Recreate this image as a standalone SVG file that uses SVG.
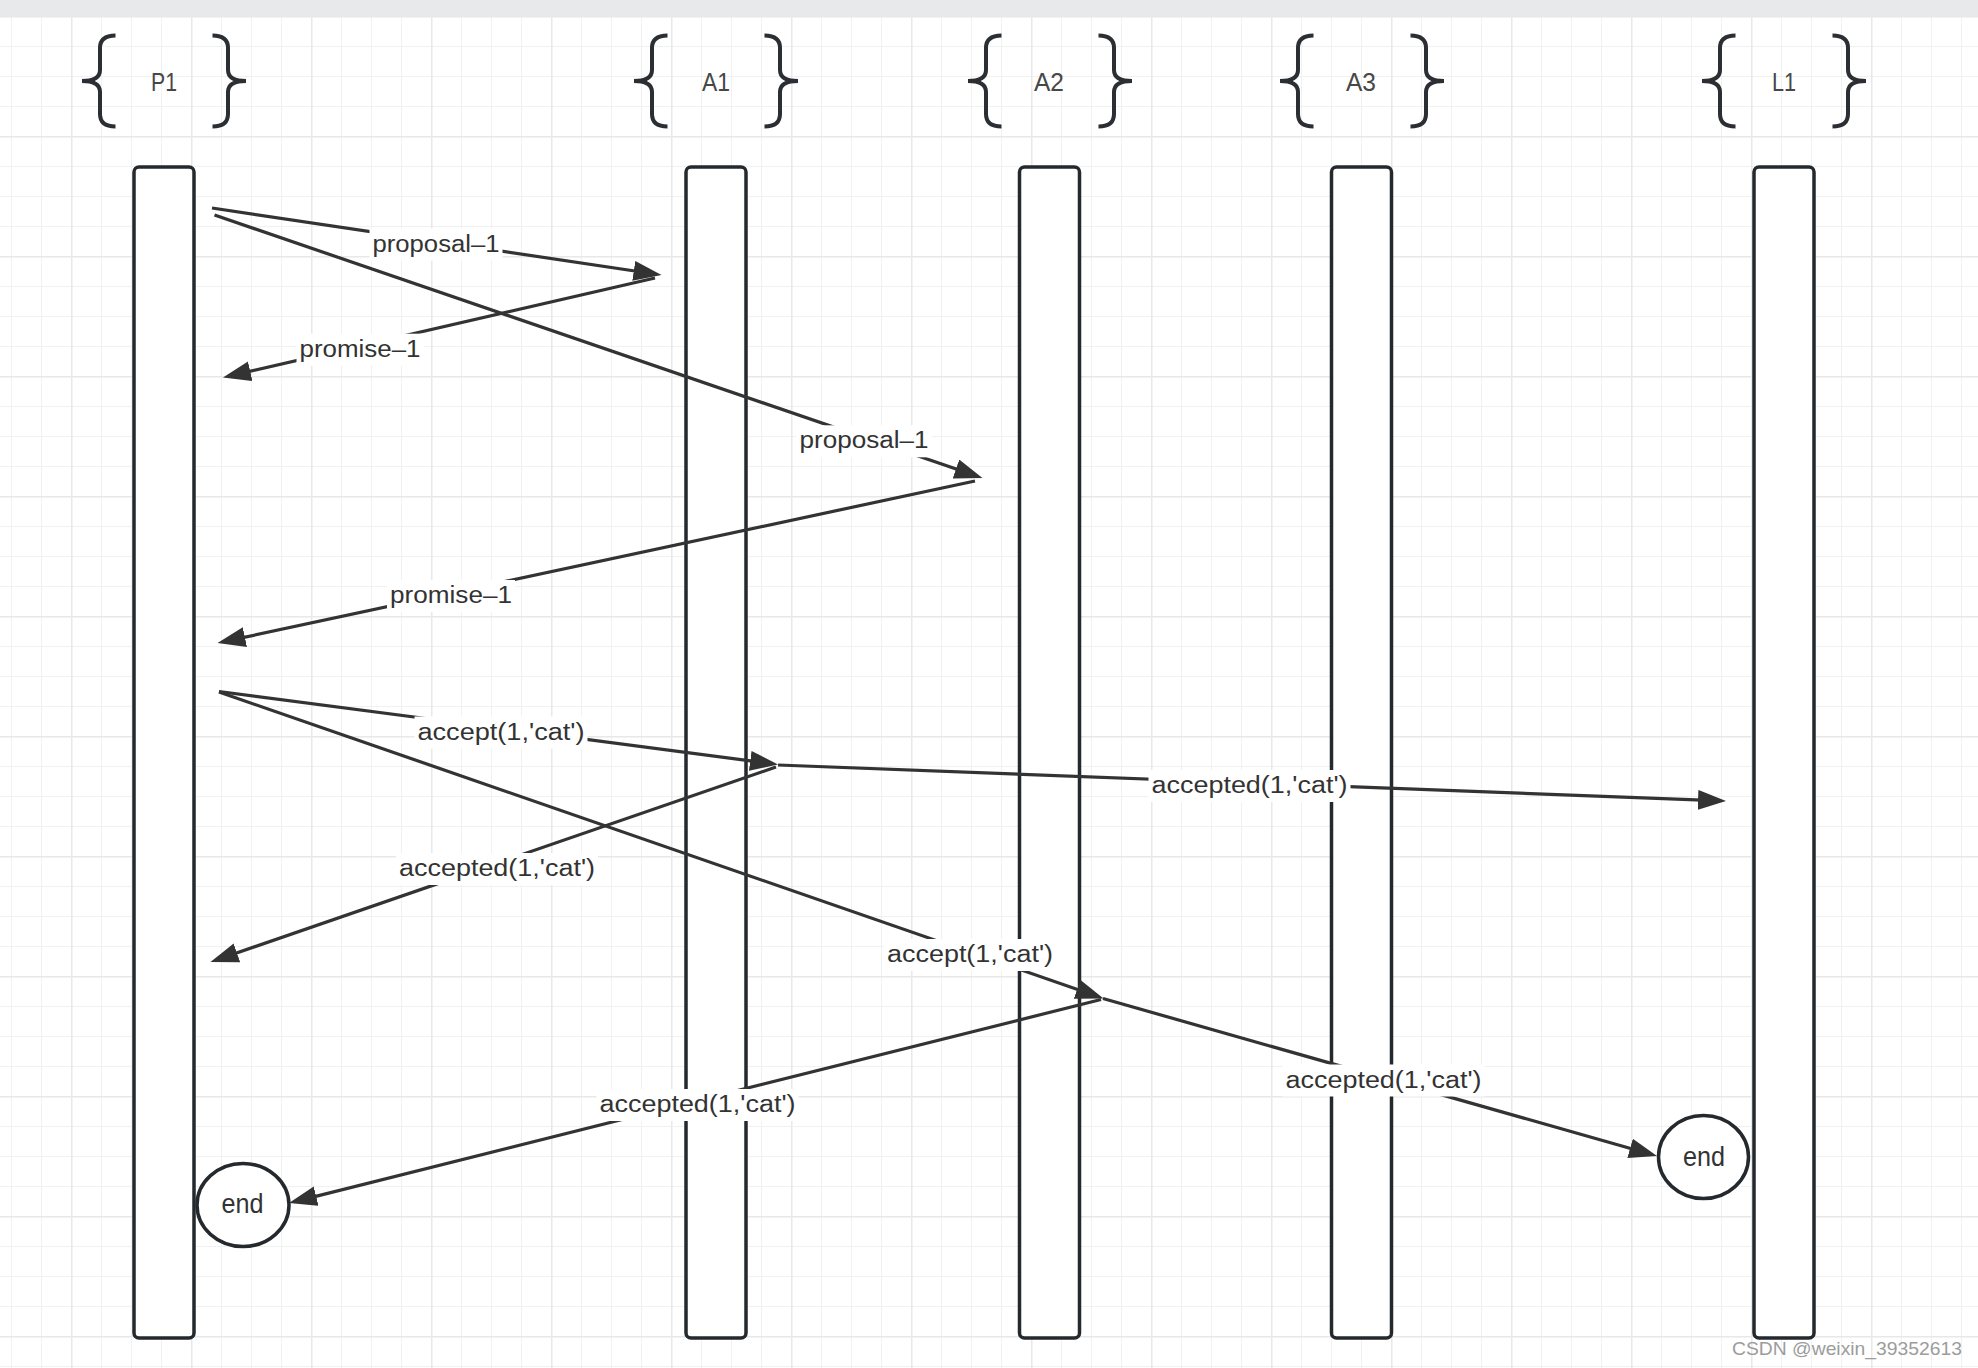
<svg xmlns="http://www.w3.org/2000/svg" xmlns:xlink="http://www.w3.org/1999/xlink" width="1978" height="1368" viewBox="0 0 1978 1368">
<style>
.lane{fill:#fff;stroke:#24292e;stroke-width:3.5}
.brace{fill:none;stroke:#2b2f33;stroke-width:4;stroke-linecap:butt}
.hdr{font-family:"Liberation Sans",Arial,sans-serif;font-size:25px;fill:#474747;text-anchor:middle}
.conn{fill:none;stroke:#333;stroke-width:3.2}
.lblbg{fill:#fff}
.lbl{font-family:"Liberation Sans",Arial,sans-serif;font-size:23px;fill:#333;text-anchor:middle}
.endc{fill:#fff;stroke:#24292e;stroke-width:3.5}
.endt{font-family:"Liberation Sans",Arial,sans-serif;font-size:28px;fill:#333;text-anchor:middle}
.wm{font-family:"Liberation Sans",Arial,sans-serif;font-size:19px;fill:#9c9c9c}
</style>
<defs>
<pattern id="gridMinor" patternUnits="userSpaceOnUse" x="11" y="16" width="30" height="30">
<path d="M0,0.5H30M0.5,0V30" fill="none" stroke="#f1f1f1" stroke-width="1"/>
</pattern>
<pattern id="gridMajor" patternUnits="userSpaceOnUse" x="71" y="16" width="120" height="120">
<path d="M0,0.75H120M0.75,0V120" fill="none" stroke="#e8e8e8" stroke-width="1.5"/>
</pattern>
<marker id="arr" markerUnits="userSpaceOnUse" markerWidth="30" markerHeight="22" refX="18" refY="10" orient="auto">
<path d="M0,0L28,10L0,20z" fill="#333"/>
</marker>
<g id="braces">
<path class="brace" d="M115.5,35.5Q100,35.5 100,48L100,70Q100,81 82,81Q100,81 100,92L100,114Q100,126.5 115.5,126.5"/>
<path class="brace" d="M212.5,35.5Q228,35.5 228,48L228,70Q228,81 246,81Q228,81 228,92L228,114Q228,126.5 212.5,126.5"/>
</g>
</defs>

<g id="background">
<rect x="0" y="0" width="1978" height="1368" fill="#fff"/>
<rect x="0" y="16" width="1978" height="1352" fill="url(#gridMinor)"/>
<rect x="0" y="16" width="1978" height="1352" fill="url(#gridMajor)"/>
<rect x="0" y="0" width="1978" height="16" fill="#e8e9eb"/>
</g>

<g id="node-P1">
<use xlink:href="#braces"/>
<text class="hdr" x="164" y="90.5" textLength="26" lengthAdjust="spacingAndGlyphs">P1</text>
<rect class="lane" x="134" y="167" width="60" height="1171" rx="5"/>
</g>
<g id="node-A1">
<use xlink:href="#braces" transform="translate(552,0)"/>
<text class="hdr" x="716" y="90.5" textLength="28" lengthAdjust="spacingAndGlyphs">A1</text>
<rect class="lane" x="686" y="167" width="60" height="1171" rx="5"/>
</g>
<g id="node-A2">
<use xlink:href="#braces" transform="translate(886,0)"/>
<text class="hdr" x="1049" y="90.5" textLength="30" lengthAdjust="spacingAndGlyphs">A2</text>
<rect class="lane" x="1019.5" y="167" width="60" height="1171" rx="5"/>
</g>
<g id="node-A3">
<use xlink:href="#braces" transform="translate(1198,0)"/>
<text class="hdr" x="1361" y="90.5" textLength="30" lengthAdjust="spacingAndGlyphs">A3</text>
<rect class="lane" x="1331.5" y="167" width="60" height="1171" rx="5"/>
</g>
<g id="node-L1">
<use xlink:href="#braces" transform="translate(1620,0)"/>
<text class="hdr" x="1784" y="90.5" textLength="24" lengthAdjust="spacingAndGlyphs">L1</text>
<rect class="lane" x="1754" y="167" width="60" height="1171" rx="5"/>
</g>

<g id="connectors">
<line class="conn" x1="212" y1="208" x2="651.6" y2="273.5" marker-end="url(#arr)"/>
<line class="conn" x1="655" y1="278" x2="232.7" y2="375.3" marker-end="url(#arr)"/>
<line class="conn" x1="214.5" y1="215" x2="973" y2="474.8" marker-end="url(#arr)"/>
<line class="conn" x1="975" y1="481" x2="227.3" y2="640.9" marker-end="url(#arr)"/>
<line class="conn" x1="219" y1="691.5" x2="768.1" y2="763.2" marker-end="url(#arr)"/>
<line class="conn" x1="778" y1="765" x2="1716" y2="800.6" marker-end="url(#arr)"/>
<line class="conn" x1="776" y1="767" x2="219.9" y2="958.7" marker-end="url(#arr)"/>
<line class="conn" x1="219" y1="692" x2="1094.1" y2="995.2" marker-end="url(#arr)"/>
<line class="conn" x1="1101" y1="999.5" x2="298.7" y2="1200.6" marker-end="url(#arr)"/>
<line class="conn" x1="1103" y1="998.5" x2="1647.4" y2="1153.3" marker-end="url(#arr)"/>
</g>

<g id="labels">
<rect class="lblbg" x="369.5" y="228.5" width="133" height="32"/>
<text class="lbl" x="436" y="251.5" textLength="127" lengthAdjust="spacingAndGlyphs">proposal–1</text>
<rect class="lblbg" x="296.5" y="333.7" width="127" height="32"/>
<text class="lbl" x="360" y="356.7" textLength="121" lengthAdjust="spacingAndGlyphs">promise–1</text>
<rect class="lblbg" x="796.5" y="425.3" width="135" height="32"/>
<text class="lbl" x="864" y="448.3" textLength="129" lengthAdjust="spacingAndGlyphs">proposal–1</text>
<rect class="lblbg" x="387" y="580" width="128" height="32"/>
<text class="lbl" x="451" y="603" textLength="122" lengthAdjust="spacingAndGlyphs">promise–1</text>
<rect class="lblbg" x="414.5" y="716.5" width="173" height="32"/>
<text class="lbl" x="501" y="739.5" textLength="167" lengthAdjust="spacingAndGlyphs">accept(1,'cat')</text>
<rect class="lblbg" x="1148.5" y="770" width="202" height="32"/>
<text class="lbl" x="1249.5" y="793" textLength="196" lengthAdjust="spacingAndGlyphs">accepted(1,'cat')</text>
<rect class="lblbg" x="396" y="853" width="202" height="32"/>
<text class="lbl" x="497" y="876" textLength="196" lengthAdjust="spacingAndGlyphs">accepted(1,'cat')</text>
<rect class="lblbg" x="884" y="939" width="172" height="32"/>
<text class="lbl" x="970" y="962" textLength="166" lengthAdjust="spacingAndGlyphs">accept(1,'cat')</text>
<rect class="lblbg" x="596.5" y="1089" width="202" height="32"/>
<text class="lbl" x="697.5" y="1112" textLength="196" lengthAdjust="spacingAndGlyphs">accepted(1,'cat')</text>
<rect class="lblbg" x="1282.5" y="1064.5" width="202" height="32"/>
<text class="lbl" x="1383.5" y="1087.5" textLength="196" lengthAdjust="spacingAndGlyphs">accepted(1,'cat')</text>
</g>

<g id="node-end-P1">
<ellipse class="endc" cx="243" cy="1205" rx="46" ry="41.5"/>
<text class="endt" x="242.5" y="1213" textLength="42" lengthAdjust="spacingAndGlyphs">end</text>
</g>
<g id="node-end-L1">
<ellipse class="endc" cx="1703.5" cy="1157" rx="45" ry="41.5"/>
<text class="endt" x="1704" y="1166" textLength="42" lengthAdjust="spacingAndGlyphs">end</text>
</g>

<text class="wm" x="1732" y="1355" textLength="230" lengthAdjust="spacingAndGlyphs">CSDN @weixin_39352613</text>
</svg>
